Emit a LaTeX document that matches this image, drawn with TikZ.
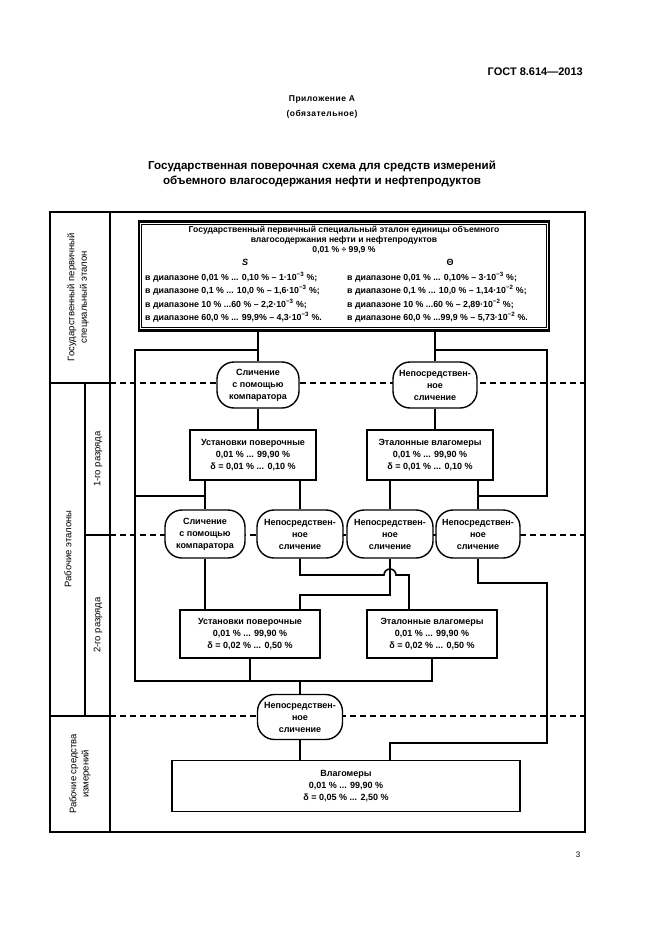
\documentclass[tikz,border=0pt]{standalone}
\usepackage{fontspec}
\setmainfont{Liberation Sans}
\usetikzlibrary{positioning}
\tikzset{
  every node/.style={font=\bfseries\fontsize{9}{12}\selectfont, align=center, inner sep=0pt},
  box/.style={draw, line width=1.6pt, fill=white},
  cmp/.style={draw, line width=1.4pt, fill=white, rounded corners=17pt, minimum height=46pt},
  link/.style={line width=1.6pt},
  level/.style={line width=1.2pt, dash pattern=on 6pt off 4pt},
  side/.style={font=\fontsize{9.5}{12.5}\selectfont, rotate=90},
}
\begin{document}
\begin{tikzpicture}[x=1pt,y=-1pt]
  \useasboundingbox[fill=white] (0,0) rectangle (661,936);
  \node[anchor=east, font=\bfseries\fontsize{11}{13}\selectfont] (gost) at (583,72) {ГОСТ 8.614---2013};
  \node[font=\bfseries\fontsize{8.5}{14.5}\selectfont\addfontfeature{LetterSpace=6}] (annex) at (322,107) {Приложение А\\(обязательное)};
  \node[font=\bfseries\fontsize{11.6}{15}\selectfont] (title) at (322,174) {Государственная поверочная схема для средств измерений\\объемного влагосодержания нефти и нефтепродуктов};
  \node[font=\fontsize{8}{9}\selectfont] (page) at (578,855) {3};
  % frame
  \draw[link] (50,212) rectangle (585,832);
  \draw[link] (110,212) -- (110,832);
  \draw[link] (50,383) -- (110,383);
  \draw[link] (85,383) -- (85,716);
  \draw[link] (85,535) -- (110,535);
  \draw[link] (50,716) -- (110,716);
  \draw[level] (110,383) -- (585,383);
  \draw[level] (110,535) -- (585,535);
  \draw[level] (110,716) -- (585,716);
  \node[side] (lvl0) at (78,297) {Государственный первичный\\специальный эталон};
  \node[side] (lvl1) at (68,549) {Рабочие эталоны};
  \node[side] (lvl1a) at (98,459) {1-го разряда};
  \node[side] (lvl1b) at (98,625) {2-го разряда};
  \node[side] (lvl2) at (80,774) {Рабочие средства\\измерений};
  % primary standard
  \node[box, line width=2.6pt, minimum width=410pt, minimum height=109pt] (etalon) at (344,276) {};
  \draw[line width=1pt] ([shift={(4pt,-4pt)}]etalon.north west) rectangle ([shift={(-4pt,4pt)}]etalon.south east);
  \node[font=\bfseries\fontsize{8.6}{10}\selectfont] (etalonHead) at (344,240) {Государственный первичный специальный эталон единицы объемного\\влагосодержания нефти и нефтепродуктов\\0,01 \% ÷ 99,9 \%};
  \node[font=\bfseries\itshape\fontsize{9}{9}\selectfont] (colS) at (245,262) {S};
  \node[font=\bfseries\fontsize{9}{9}\selectfont] (colT) at (450,262) {Θ};
  \node[anchor=north west, align=left, font=\bfseries\fontsize{8.8}{13.4}\selectfont] (rangeS) at (145,272) {в диапазоне 0,01 \% ... 0,10 \% – 1·10\textsuperscript{−3} \%;\\в диапазоне 0,1 \% ... 10,0 \% – 1,6·10\textsuperscript{−3} \%;\\в диапазоне 10 \% ...60 \% – 2,2·10\textsuperscript{−3} \%;\\в диапазоне 60,0 \% ... 99,9\% – 4,3·10\textsuperscript{−3} \%.};
  \node[anchor=north west, align=left, font=\bfseries\fontsize{8.8}{13.4}\selectfont] (rangeT) at (347,272) {в диапазоне 0,01 \% ... 0,10\% – 3·10\textsuperscript{−3} \%;\\в диапазоне 0,1 \% ... 10,0 \% – 1,14·10\textsuperscript{−2} \%;\\в диапазоне 10 \% ...60 \% – 2,89·10\textsuperscript{−2} \%;\\в диапазоне 60,0 \% ...99,9 \% – 5,73·10\textsuperscript{−2} \%.};
  % first grade
  \node[cmp, minimum width=82pt] (cmpA) at (258,385) {Сличение\\с помощью\\компаратора};
  \node[cmp, minimum width=84pt] (dirA) at (435,385) {Непосредствен-\\ное\\сличение};
  \node[box, minimum width=126pt, minimum height=50pt] (ustA) at (253,455) {Установки поверочные\\0,01 \% ... 99,90 \%\\δ = 0,01 \% ... 0,10 \%};
  \node[box, minimum width=126pt, minimum height=50pt] (etA) at (430,455) {Эталонные влагомеры\\0,01 \% ... 99,90 \%\\δ = 0,01 \% ... 0,10 \%};
  % second grade
  \node[cmp, minimum width=80pt, minimum height=48pt] (cmpB) at (205,534) {Сличение\\с помощью\\компаратора};
  \node[cmp, minimum width=86pt, minimum height=48pt] (dirB) at (300,534) {Непосредствен-\\ное\\сличение};
  \node[cmp, minimum width=86pt, minimum height=48pt] (dirC) at (390,534) {Непосредствен-\\ное\\сличение};
  \node[cmp, minimum width=84pt, minimum height=48pt] (dirD) at (478,534) {Непосредствен-\\ное\\сличение};
  \node[box, minimum width=140pt, minimum height=48pt] (ustB) at (250,634) {Установки поверочные\\0,01 \% ... 99,90 \%\\δ = 0,02 \% ... 0,50 \%};
  \node[box, minimum width=130pt, minimum height=48pt] (etB) at (432,634) {Эталонные влагомеры\\0,01 \% ... 99,90 \%\\δ = 0,02 \% ... 0,50 \%};
  % working instruments
  \node[cmp, minimum width=85pt, minimum height=45pt] (dirE) at (300,717) {Непосредствен-\\ное\\сличение};
  \node[box, minimum width=348pt, minimum height=51pt] (vlag) at (346,786) {Влагомеры\\0,01 \% ... 99,90 \%\\δ = 0,05 \% ... 2,50 \%};
  \coordinate (lt) at (135,350);
  \coordinate (lm) at (135,496);
  \coordinate (lb) at (135,681);
  \coordinate (rt) at (547,350);
  \coordinate (rb) at (547,743);
  \coordinate (hop) at (dirC.south |- 0,575);
  \begin{scope}[link]
    \draw (etalon.south -| cmpA.north) -- (cmpA.north);
    \draw (etalon.south -| dirA.north) -- (dirA.north);
    \draw (cmpA.north |- lt) -- (lt) -- (lb) -| (etB.south);
    \draw (lm) -- (lm -| cmpB.north);
    \draw (dirA.north |- rt) -- (rt) |- (lm -| dirD.north);
    \draw (cmpA.south) -- (ustA.north -| cmpA.south);
    \draw (dirA.south) -- (etA.north -| dirA.south);
    \draw (ustA.south -| cmpB.north) -- (cmpB.north);
    \draw (ustA.south -| dirB.north) -- (dirB.north);
    \draw (etA.south -| dirC.north) -- (dirC.north);
    \draw (etA.south -| dirD.north) -- (dirD.north);
    \draw (cmpB.south) -- (ustB.north -| cmpB.south);
    \draw (dirB.south) |- ([xshift=-6pt]hop) arc[start angle=180, end angle=0, radius=6pt] -- ([xshift=19pt]hop) -- ([xshift=19pt]hop |- etB.north);
    \draw (dirC.south) -- (dirC.south |- 0,595) -| (ustB.north -| dirB.south);
    \draw (dirD.south) |- (rt |- 0,583) -- (rb) -| (vlag.north -| dirC.south);
    \draw (ustB.south) -- (ustB.south |- lb);
    \draw (dirE.north) -- (dirE.north |- lb);
    \draw (dirE.south) -- (vlag.north -| dirE.south);
  \end{scope}
\end{tikzpicture}
\end{document}
